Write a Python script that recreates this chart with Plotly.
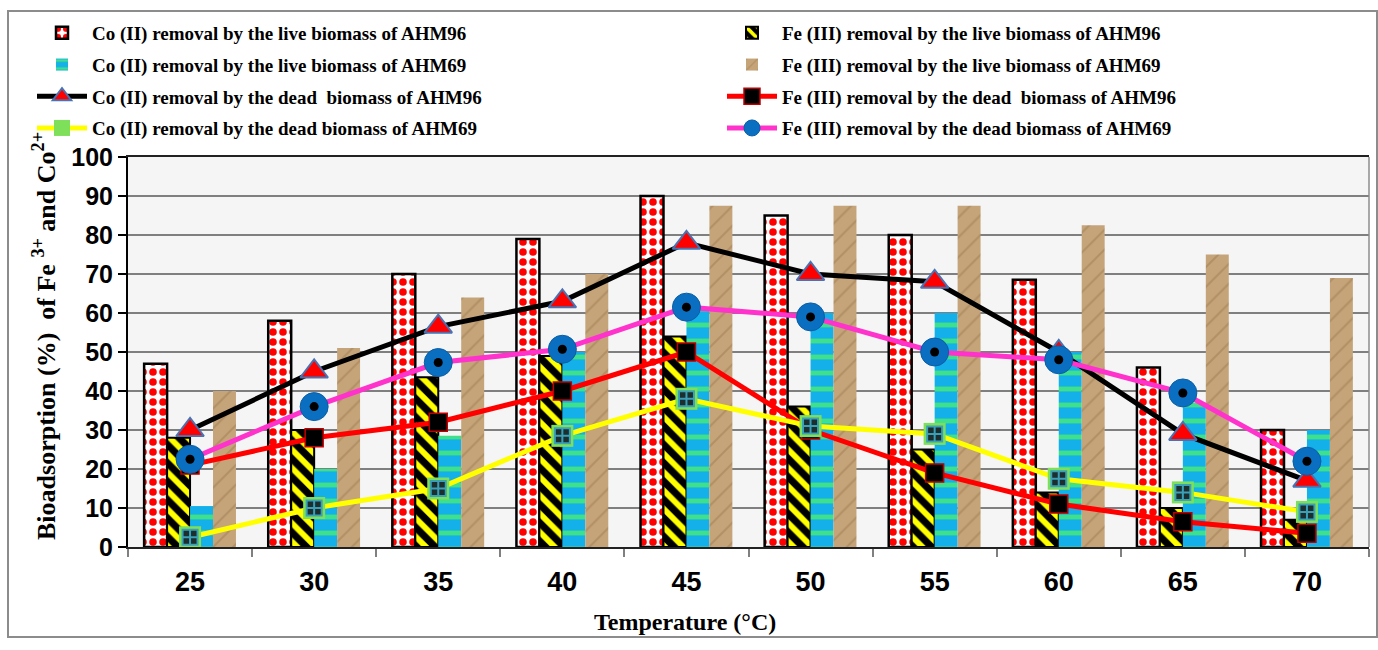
import plotly.graph_objects as go

temps = ["25", "30", "35", "40", "45", "50", "55", "60", "65", "70"]

co_live_96 = [47, 58, 70, 79, 90, 85, 80, 68.5, 46, 30]
fe_live_96 = [28, 30, 43.5, 49, 54, 36, 25, 14, 10, 7]
co_live_69 = [10.5, 20, 28.5, 50, 61, 60, 60, 50, 37, 30]
fe_live_69 = [40, 51, 64, 70, 87.5, 87.5, 87.5, 82.5, 75, 69]

co_dead_96 = [30, 45, 56.5, 63, 78, 70, 68, 50, 29, 17]
fe_dead_96 = [21, 28, 32, 40, 50, 30, 19, 11, 6.5, 3.5]
co_dead_69 = [2.5, 10, 15, 28.5, 38, 31, 29, 17.5, 14, 9]
fe_dead_69 = [22.5, 36, 47.3, 50.7, 61.5, 59, 50, 48, 39.5, 22]

names = {
    "co_live_96": "Co (II) removal by the live biomass of AHM96",
    "co_live_69": "Co (II) removal by the live biomass of AHM69",
    "co_dead_96": "Co (II) removal by the dead  biomass of AHM96",
    "co_dead_69": "Co (II) removal by the dead biomass of AHM69",
    "fe_live_96": "Fe (III) removal by the live biomass of AHM96",
    "fe_live_69": "Fe (III) removal by the live biomass of AHM69",
    "fe_dead_96": "Fe (III) removal by the dead  biomass of AHM96",
    "fe_dead_69": "Fe (III) removal by the dead biomass of AHM69",
}

fig = go.Figure()

# Bars (grouped, in order within each category)
fig.add_trace(go.Bar(
    x=temps, y=co_live_96, name=names["co_live_96"], legend="legend", legendgroup="a1",
    marker=dict(color="white", line=dict(color="black", width=2.5),
                pattern=dict(shape=".", fgcolor="#ff0000", bgcolor="white", size=10, solidity=0.45,
                             fgopacity=1, fillmode="replace")),
))
fig.add_trace(go.Bar(
    x=temps, y=fe_live_96, name=names["fe_live_96"], legend="legend2", legendgroup="b1",
    marker=dict(color="black", line=dict(color="black", width=2),
                pattern=dict(shape="\\", fgcolor="#ffff00", bgcolor="black", size=13, solidity=0.45,
                             fgopacity=1, fillmode="replace")),
))
fig.add_trace(go.Bar(
    x=temps, y=co_live_69, name=names["co_live_69"], legend="legend", legendgroup="a2",
    marker=dict(color="#14b0ea", line=dict(width=0),
                pattern=dict(shape="-", fgcolor="#3ee08a", bgcolor="#14b0ea", size=16, solidity=0.3,
                             fgopacity=1, fillmode="replace")),
))
fig.add_trace(go.Bar(
    x=temps, y=fe_live_69, name=names["fe_live_69"], legend="legend2", legendgroup="b2",
    marker=dict(color="#c29f74", line=dict(width=0),
                pattern=dict(shape="/", fgcolor="#a58157", bgcolor="#c6a47a", size=14, solidity=0.15,
                             fgopacity=0.6, fillmode="replace")),
))

# Lines
fig.add_trace(go.Scatter(
    x=temps, y=co_dead_96, name=names["co_dead_96"], mode="lines+markers",
    legend="legend", legendgroup="a3",
    line=dict(color="black", width=5),
    marker=dict(symbol="triangle-up", size=24, color="#ff0000", line=dict(color="#4a72b0", width=2)),
))
fig.add_trace(go.Scatter(
    x=temps, y=fe_dead_96, name=names["fe_dead_96"], mode="lines+markers",
    legend="legend2", legendgroup="b3",
    line=dict(color="#ff0000", width=5),
    marker=dict(symbol="square", size=18, color="black", line=dict(color="#c00000", width=1.5)),
))
fig.add_trace(go.Scatter(
    x=temps, y=co_dead_69, name=names["co_dead_69"], mode="lines+markers",
    legend="legend", legendgroup="a4",
    line=dict(color="#ffff00", width=5),
    marker=dict(symbol="square", size=22, color="#7ee05a", line=dict(width=0)),
))
fig.add_trace(go.Scatter(
    x=temps, y=co_dead_69, mode="markers", showlegend=False, legend="legend", legendgroup="a4",
    marker=dict(symbol="square-cross", size=15, color="#1c2e2e", line=dict(color="#3aa0b8", width=2)),
    hoverinfo="skip",
))
fig.add_trace(go.Scatter(
    x=temps, y=fe_dead_69, name=names["fe_dead_69"], mode="lines+markers",
    legend="legend2", legendgroup="b4",
    line=dict(color="#ff33cc", width=5),
    marker=dict(symbol="circle", size=28, color="#0b6fc1", line=dict(color="#0a5ea6", width=1)),
))
fig.add_trace(go.Scatter(
    x=temps, y=fe_dead_69, mode="markers", showlegend=False, legend="legend2", legendgroup="b4",
    marker=dict(symbol="circle", size=9, color="black"),
    hoverinfo="skip",
))

L, R, T, B = 128, 9, 157, 103
W, H = 1378, 650
pw, ph = W - L - R, H - T - B

def px_x(p):
    return (p - L) / pw

def px_y(p):
    return (H - B - p) / ph

legend_font = dict(family="Liberation Serif", size=19, color="black", weight="bold")

fig.update_layout(
    width=W, height=H,
    margin=dict(l=L, r=R, t=T, b=B, autoexpand=False),
    paper_bgcolor="white",
    plot_bgcolor="#f5f5f5",
    barmode="group",
    bargap=0.26,
    bargroupgap=0,
    legend=dict(x=px_x(32), y=px_y(14), xanchor="left", yanchor="top",
                orientation="v", font=legend_font, itemwidth=50, tracegroupgap=4,
                bgcolor="rgba(0,0,0,0)"),
    legend2=dict(x=px_x(722), y=px_y(14), xanchor="left", yanchor="top",
                 orientation="v", font=legend_font, itemwidth=50, tracegroupgap=4,
                 bgcolor="rgba(0,0,0,0)"),
    xaxis=dict(
        type="category", range=[-0.5, 9.5],
        tickfont=dict(family="Liberation Sans", size=27, color="black", weight="bold"),
        ticks="outside", tickson="boundaries", ticklen=8, tickcolor="#808080", tickwidth=1.5,
        ticklabelstandoff=10,
        showline=True, linecolor="#222222", linewidth=2, mirror=True,
        showgrid=False,
    ),
    yaxis=dict(
        range=[0, 100], dtick=10,
        tickfont=dict(family="Liberation Sans", size=25, color="black", weight="bold"),
        ticks="outside", ticklen=8, tickcolor="black", tickwidth=2,
        showline=True, linecolor="black", linewidth=2,
        showgrid=True, gridcolor="#7f7f7f", gridwidth=2,
        zeroline=False,
    ),
    annotations=[
        dict(text="Temperature (°C)", xref="paper", yref="paper",
             x=px_x(685), y=px_y(622), xanchor="center", yanchor="middle", showarrow=False,
             font=dict(family="Liberation Serif", size=24, color="black", weight="bold")),
        dict(text="Bioadsorption (%)  of Fe <sup>3+</sup> and Co<sup>2+</sup>", xref="paper", yref="paper",
             x=px_x(44), y=px_y(336), xanchor="center", yanchor="middle", textangle=-90, showarrow=False,
             font=dict(family="Liberation Serif", size=26, color="black", weight="bold")),
    ],
    shapes=[
        dict(type="rect", xref="paper", yref="paper",
             x0=px_x(8), x1=px_x(1377), y0=px_y(637), y1=px_y(11),
             line=dict(color="#8c8c8c", width=2), layer="below"),
        dict(type="line", xref="paper", yref="paper", x0=1, x1=1, y0=0, y1=1,
             line=dict(color="#8c8c8c", width=1.5)),
    ],
    showlegend=True,
)

fig.write_html("out.html")
